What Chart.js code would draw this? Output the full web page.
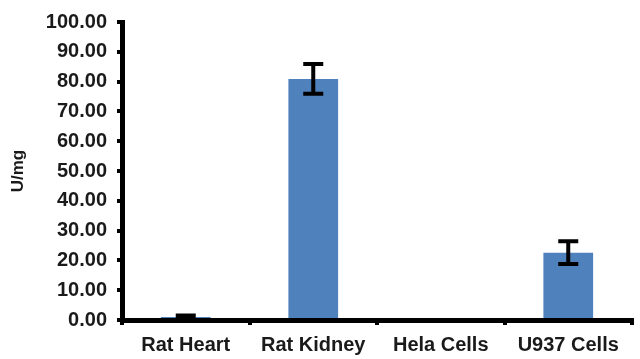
<!DOCTYPE html>
<html>
<head>
<meta charset="utf-8">
<script src="https://cdn.jsdelivr.net/npm/chart.js@4/dist/chart.umd.min.js"></script>
<style>
  html, body { margin: 0; padding: 0; background: #ffffff; }
  #wrap { width: 640px; height: 359px; position: relative; }
</style>
</head>
<body>
<div id="wrap"><canvas id="c" width="640" height="359"></canvas></div>
<script>
const categories = ["Rat Heart", "Rat Kidney", "Hela Cells", "U937 Cells"];
const values = [1.0, 80.9, 0, 22.6];
const errors = [0.5, 5.0, 0, 3.8];
const yTitle = "U/mg";

const errorBarPlugin = {
  id: "errorBars",
  afterDatasetsDraw(chart) {
    const ctx = chart.ctx;
    const meta = chart.getDatasetMeta(0);
    const y = chart.scales.y;
    ctx.save();
    ctx.strokeStyle = "#000000";
    ctx.lineWidth = 4;
    meta.data.forEach((bar, i) => {
      const e = errors[i];
      if (!e) return;
      const x = bar.x;
      const top = y.getPixelForValue(values[i] + e);
      const bot = y.getPixelForValue(Math.max(0, values[i] - e));
      const half = 10;
      ctx.beginPath();
      ctx.moveTo(x, top); ctx.lineTo(x, bot);
      ctx.moveTo(x - half, top); ctx.lineTo(x + half, top);
      ctx.moveTo(x - half, bot); ctx.lineTo(x + half, bot);
      ctx.stroke();
    });
    ctx.restore();
  }
};

const family = "'Liberation Sans', Arial, sans-serif";

new Chart(document.getElementById("c"), {
  type: "bar",
  data: {
    labels: categories,
    datasets: [{
      data: values,
      backgroundColor: "#4F81BD",
      borderWidth: 0,
      barPercentage: 0.39,
      categoryPercentage: 1.0
    }]
  },
  options: {
    responsive: false,
    animation: false,
    layout: { padding: { top: 8, right: 8, left: 0, bottom: 0 } },
    plugins: { legend: { display: false }, tooltip: { enabled: false } },
    scales: {
      y: {
        min: 0, max: 100,
        ticks: {
          stepSize: 10,
          color: "#1a1a1a",
          font: { family: family, size: 20, weight: "bold" },
          padding: 10,
          callback: (v) => Number(v).toFixed(2)
        },
        grid: { drawOnChartArea: false, drawTicks: true, tickLength: 5, color: "#000000", lineWidth: 4 },
        border: { display: true, color: "#000000", width: 5 },
        title: { display: true, text: yTitle, color: "#1a1a1a", font: { family: family, size: 17, weight: "bold" }, padding: { top: 8, bottom: 4 } },
        afterFit(scale) { scale.width = 122; }
      },
      x: {
        ticks: { color: "#1a1a1a", font: { family: family, size: 20, weight: "bold" }, padding: 8 },
        grid: { drawOnChartArea: false, drawTicks: true, tickLength: 5, color: "#000000", lineWidth: 4, offset: true },
        border: { display: true, color: "#000000", width: 5 },
        afterFit(scale) { scale.height = 39; }
      }
    }
  },
  plugins: [errorBarPlugin]
});
</script>
</body>
</html>
